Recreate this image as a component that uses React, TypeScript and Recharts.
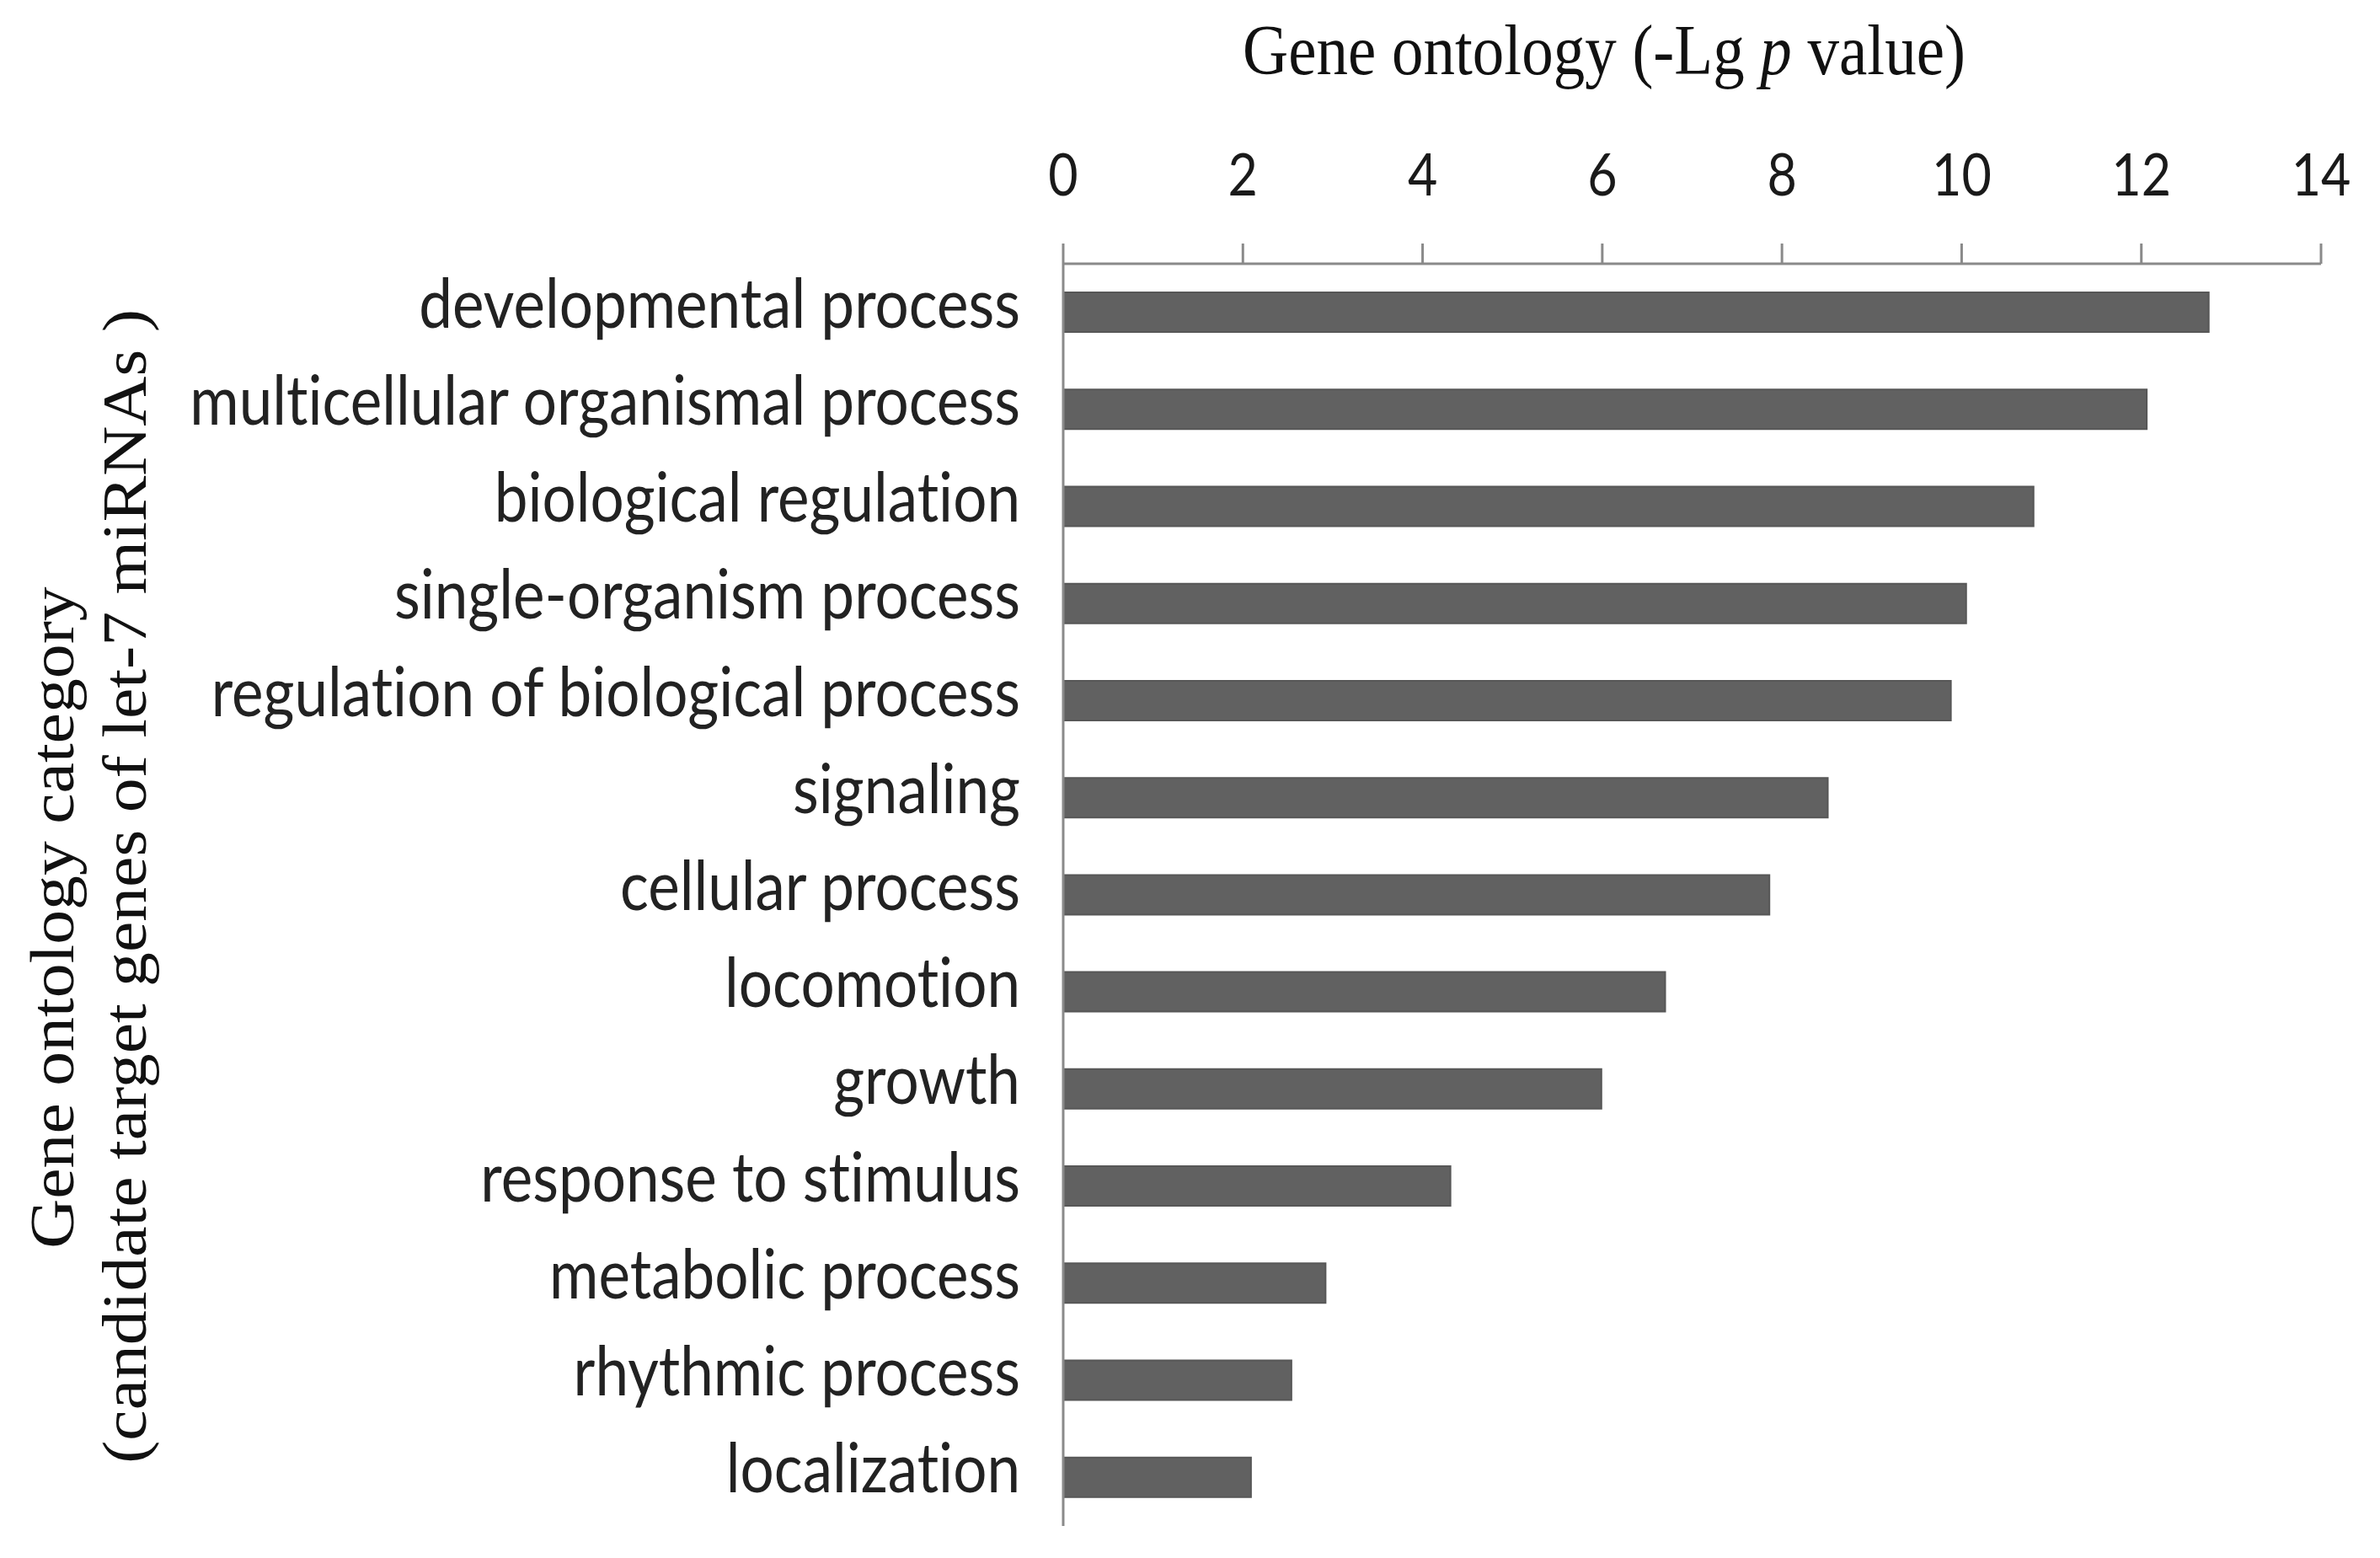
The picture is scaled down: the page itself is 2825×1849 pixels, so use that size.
import { Bar, BarChart, XAxis, YAxis } from "recharts"

const categories = [
  "developmental process",
  "multicellular organismal process",
  "biological regulation",
  "single-organism process",
  "regulation of biological process",
  "signaling",
  "cellular process",
  "locomotion",
  "growth",
  "response to stimulus",
  "metabolic process",
  "rhythmic process",
  "localization",
]

const lgPValues = [12.75, 12.06, 10.8, 10.05, 9.88, 8.51, 7.86, 6.7, 5.99, 4.31, 2.92, 2.54, 2.09]

const xTicks = [0, 2, 4, 6, 8, 10, 12, 14]

const data = categories.map((name, i) => ({ name, value: lgPValues[i] }))

const STRETCH = 1.14
const AXIS_GREY = "#8a8a8a"

function NumberTick(props: any) {
  const { x, payload } = props
  return (
    <text
      transform={`translate(${x},232) scale(1,${STRETCH})`}
      textAnchor="middle"
      fontFamily="Lato, sans-serif"
      fontSize={61}
      fill="#1a1a1a"
    >
      {payload.value}
    </text>
  )
}

function CategoryTick(props: any) {
  const { y, payload } = props
  return (
    <text
      transform={`translate(1211,${y + 18}) scale(1,${STRETCH})`}
      textAnchor="end"
      fontFamily="Lato, sans-serif"
      fontSize={71}
      fill="#222"
      style={{ fontVariantLigatures: "none" }}
    >
      {payload.value}
    </text>
  )
}

export default function App() {
  return (
    <div style={{ position: "absolute", left: 0, top: 0, width: 2825, height: 1849, background: "#fff" }}>
      <BarChart
        width={2825}
        height={1849}
        data={data}
        layout="vertical"
        barCategoryGap={0}
        margin={{ top: 213, right: 70, bottom: 38, left: 0 }}
      >
        <XAxis
          type="number"
          orientation="top"
          domain={[0, 14]}
          ticks={xTicks}
          height={100}
          tickSize={24}
          stroke={AXIS_GREY}
          strokeWidth={3}
          tick={<NumberTick />}
        />
        <YAxis
          type="category"
          dataKey="name"
          width={1262}
          tickLine={false}
          stroke={AXIS_GREY}
          strokeWidth={3}
          interval={0}
          tick={<CategoryTick />}
        />
        <Bar dataKey="value" fill="#616161" stroke="#575757" strokeWidth={2} barSize={47} isAnimationActive={false} />
      </BarChart>
      <svg width={2825} height={1849} style={{ position: "absolute", left: 0, top: 0, pointerEvents: "none" }}>
        <text
          transform={`translate(1904,88) scale(1,${STRETCH})`}
          textAnchor="middle"
          fontFamily="'Liberation Serif', 'Times New Roman', serif"
          fontSize={75}
          fill="#111"
        >
          Gene ontology (-Lg <tspan fontStyle="italic">p</tspan> value)
        </text>
        <text
          transform="translate(87,1089) rotate(-90) scale(1.12,1)"
          textAnchor="middle"
          fontFamily="'Liberation Serif', 'Times New Roman', serif"
          fontSize={73}
          fill="#111"
        >
          Gene ontology category
        </text>
        <text
          transform="translate(173,1052) rotate(-90) scale(1.12,1)"
          textAnchor="middle"
          fontFamily="'Liberation Serif', 'Times New Roman', serif"
          fontSize={73}
          fill="#111"
        >
          (candidate target genes of let-7 miRNAs )
        </text>
      </svg>
    </div>
  )
}
